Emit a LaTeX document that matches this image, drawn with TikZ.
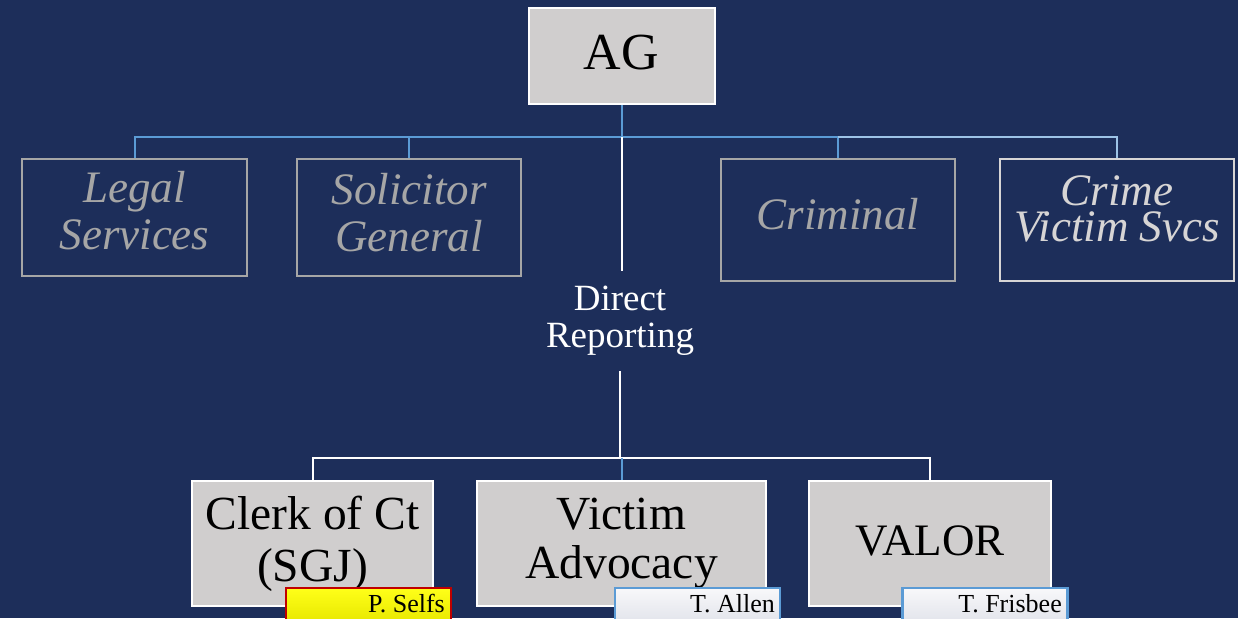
\documentclass[tikz,border=0pt]{standalone}
\usepackage{fontspec}
\setmainfont{Liberation Serif}
\usetikzlibrary{shadings}
\definecolor{bg}{RGB}{29,46,90}
\definecolor{boxgray}{RGB}{208,206,206}
\definecolor{linkblue}{RGB}{91,155,213}
\definecolor{linklight}{RGB}{157,195,230}
\definecolor{dimgray}{RGB}{166,166,166}
\definecolor{palegray}{RGB}{215,213,213}
\definecolor{tagred}{RGB}{192,0,0}
\begin{document}
\begin{tikzpicture}[x=1pt,y=-1pt,
  mainbox/.style={draw=white, line width=2pt, fill=boxgray, text=black,
    align=center, inner sep=0pt},
  staffbox/.style={draw=dimgray, line width=2pt, fill=bg, inner sep=0pt},
  stafftext/.style={text=dimgray, align=center, inner sep=0pt,
    font=\fontsize{45}{47}\selectfont\itshape},
  tagbox/.style={line width=2.5pt, minimum width=165, minimum height=34, inner sep=0pt},
  tagtext/.style={anchor=base east, inner sep=0pt, text=black,
    font=\fontsize{26}{28}\selectfont},
  link/.style={line width=2pt, draw=linkblue},
  linklt/.style={line width=2pt, draw=linklight},
  whitelink/.style={line width=2pt, draw=white}]
\fill[bg] (0,0) rectangle (1238,618);
\useasboundingbox (0,0) rectangle (1238,618);
\clip (0,0) rectangle (1238,618);

% top of the chart
\node[mainbox, minimum width=186, minimum height=96] (ag) at (621.5,56) {};
\node[text=black, inner sep=0pt, font=\fontsize{52}{56}\selectfont]
  (agT) at ([yshift=3pt]ag.center) {AG};

% staff units
\node[staffbox, minimum width=225, minimum height=117] (legal) at (134.5,217.5) {};
\node[stafftext] (legalT) at ([yshift=7pt]legal.center) {Legal\\Services};
\node[staffbox, minimum width=224, minimum height=117] (solic) at (409,217.5) {};
\node[stafftext] (solicT) at ([yshift=5pt]solic.center) {Solicitor\\General};
\node[staffbox, minimum width=234, minimum height=122] (crim) at (838,220) {};
\node[stafftext] (crimT) at ([yshift=6pt]crim.center) {Criminal};
\node[staffbox, draw=palegray, minimum width=234, minimum height=122] (cvs) at (1117,220) {};
\node[stafftext, text=palegray, font=\fontsize{45}{36}\selectfont\itshape]
  (cvsT) at ([yshift=11pt]cvs.center) {Crime\\Victim Svcs};

% direct reports
\node[text=white, align=center, inner sep=0pt, minimum height=100,
  font=\fontsize{37}{37}\selectfont] (direct) at (620,321) {Direct\\Reporting};

\node[mainbox, minimum width=241, minimum height=125,
  font=\fontsize{47.5}{52}\selectfont] (clerk) at (312.5,543.5) {Clerk of Ct\\(SGJ)};
\node[mainbox, minimum width=289, minimum height=125,
  font=\fontsize{47.5}{49}\selectfont] (victim) at (621.5,543.5) {Victim\\Advocacy};
\node[mainbox, minimum width=242, minimum height=125] (valor) at (930,543.5) {};
\node[text=black, inner sep=0pt, font=\fontsize{45}{48}\selectfont]
  (valorT) at ([yshift=3pt]valor.center) {VALOR};

% name tags
\node[tagbox, draw=tagred, top color={rgb,255:red,255;green,255;blue,25},
  bottom color={rgb,255:red,232;green,232;blue,0}] (tagA) at (368.5,605) {};
\node[tagtext] (tagAT) at (445,612) {P. Selfs};
\node[tagbox, draw=linkblue, top color={rgb,255:red,248;green,248;blue,250},
  bottom color={rgb,255:red,226;green,228;blue,235}] (tagB) at (697.5,605) {};
\node[tagtext] (tagBT) at (775,612) {T. Allen};
\node[tagbox, draw=linkblue, top color={rgb,255:red,248;green,248;blue,250},
  bottom color={rgb,255:red,226;green,228;blue,235}] (tagC) at (985,605) {};
\node[tagtext] (tagCT) at (1062,612) {T. Frisbee};

% connectors
\coordinate (hub) at (621.5,137);
\coordinate (bus) at (620,458);
\draw[link] (ag.south) -- (hub);
\draw[link] (hub) -| (legal.north);
\draw[link] (hub) -| (solic.north);
\draw[link] (hub) -| (crim.north);
\draw[linklt] (crim.north |- hub) -| (cvs.north);
\draw[whitelink] (hub) -- (hub |- direct.north);
\draw[whitelink] (direct.south) -- (bus);
\draw[whitelink] (bus) -| (clerk.north);
\draw[whitelink] (bus) -| (valor.north);
\draw[link] (bus -| victim.north) -- (victim.north);
\end{tikzpicture}
\end{document}
